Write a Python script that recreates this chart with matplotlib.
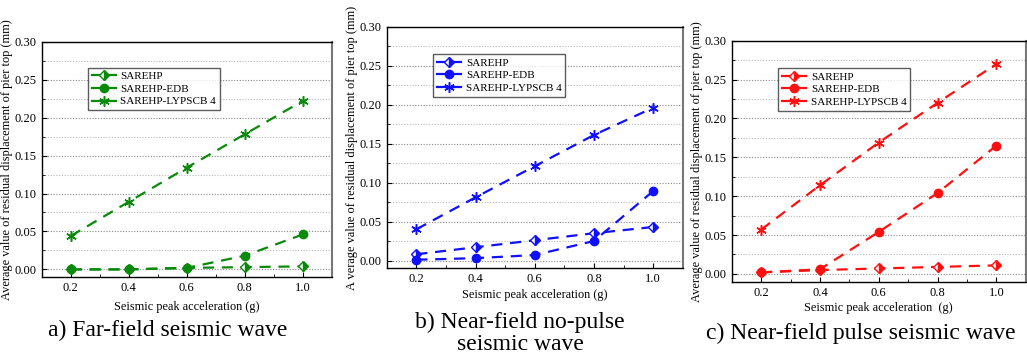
import matplotlib
matplotlib.use("Agg")
import matplotlib.pyplot as plt
from matplotlib.ticker import MultipleLocator

plt.rcParams['font.family'] = ['Liberation Serif', 'DejaVu Serif']

pga = [0.2, 0.4, 0.6, 0.8, 1.0]
series_names = ["SAREHP", "SAREHP-EDB", "SAREHP-LYPSCB 4"]

far_sarehp = [0.000, 0.000, 0.002, 0.003, 0.004]
far_edb = [0.000, 0.000, 0.002, 0.018, 0.046]
far_lyp = [0.044, 0.089, 0.134, 0.178, 0.222]

nop_sarehp = [0.008, 0.017, 0.026, 0.035, 0.043]
nop_edb = [0.001, 0.003, 0.007, 0.025, 0.089]
nop_lyp = [0.040, 0.081, 0.121, 0.161, 0.196]

pul_sarehp = [0.002, 0.005, 0.007, 0.009, 0.011]
pul_edb = [0.002, 0.006, 0.054, 0.104, 0.165]
pul_lyp = [0.057, 0.114, 0.169, 0.220, 0.270]

yticks = [0.00, 0.05, 0.10, 0.15, 0.20, 0.25, 0.30]
xticks = [0.2, 0.4, 0.6, 0.8, 1.0]

W, H = 1027, 358
fig = plt.figure(figsize=(W / 100, H / 100), dpi=100)

panels = [
    dict(box=(41.7, 41.7, 331.7, 277.0), ylim=(-0.01, 0.30), color="#0a8a0a",
         data=(far_sarehp, far_edb, far_lyp),
         ylabel="Average value of residual displacement of pier top (mm)",
         xlabel="Seismic peak acceleration (g)", xlab_y=307,
         legbox=(87.7, 67.7), caption=["a) Far-field seismic wave"], cap_x=168, cap_y=[330]),
    dict(box=(386.7, 26.7, 682.7, 268.3), ylim=(-0.01, 0.30), color="#1010ff",
         data=(nop_sarehp, nop_edb, nop_lyp),
         ylabel="A verage value of residual displacement of pier top (mm)",
         xlabel="Seismic peak acceleration (g)", xlab_y=295,
         legbox=(433, 54), caption=["b) Near-field no-pulse", "seismic wave"], cap_x=520, cap_y=[322, 345]),
    dict(box=(731.7, 40.7, 1025.7, 281.7), ylim=(-0.01, 0.30), color="#ff1010",
         data=(pul_sarehp, pul_edb, pul_lyp),
         ylabel="Average value of residual displacement of pier top (mm)",
         xlabel="Seismic peak acceleration  (g)", xlab_y=308,
         legbox=(778, 68), caption=["c) Near-field pulse seismic wave"], cap_x=861, cap_y=[333]),
]

for p in panels:
    x0, y0, x1, y1 = p["box"]
    ax = fig.add_axes([x0 / W, 1 - y1 / H, (x1 - x0) / W, (y1 - y0) / H])
    c = p["color"]
    s1, s2, s3 = p["data"]
    ax.plot(pga, s1, linestyle=(0, (5, 3.5)), color=c, lw=1.6, marker='D', ms=5.5,
            fillstyle='right', markerfacecoloralt='white', markeredgecolor=c, markerfacecolor=c,
            label=series_names[0])
    ax.plot(pga, s2, linestyle=(0, (5, 3.5)), color=c, lw=1.6, marker='o', ms=6,
            markerfacecolor=c, markeredgecolor=c, label=series_names[1])
    ax.plot(pga, s3, linestyle=(0, (5, 3.5)), color=c, lw=1.6, marker=(6, 2, 0), ms=7.5,
            markeredgewidth=1.1, label=series_names[2])
    ax.set_xlim(0.1, 1.1)
    ax.set_ylim(*p["ylim"])
    ax.set_xticks(xticks)
    ax.set_yticks(yticks)
    ax.set_xticklabels([f"{v:.1f}" for v in xticks])
    ax.set_yticklabels([f"{v:.2f}" for v in yticks])
    ax.xaxis.set_minor_locator(MultipleLocator(0.1))
    ax.yaxis.set_minor_locator(MultipleLocator(0.025))
    ax.tick_params(which='both', direction='in', labelsize=9, top=False, right=False)
    ax.tick_params(which='major', length=3.5)
    ax.tick_params(which='minor', length=2)
    ax.grid(axis='y', which='major', linestyle=(0, (1, 1.5)), color='#888888', lw=0.8)
    ax.grid(axis='y', which='minor', linestyle=(0, (1, 1.5)), color='#bbbbbb', lw=0.8)
    ax.set_axisbelow(True)
    for sp in ax.spines.values():
        sp.set_linewidth(1.0)
    ax.spines['right'].set_color('#777777')
    ax.spines['right'].set_linewidth(1.5)
    ax.set_ylabel(p["ylabel"], fontsize=8.9, labelpad=1.5)
    fig.text((x0 + x1) / 2 / W, 1 - p["xlab_y"] / H, p["xlabel"], fontsize=8.8,
             ha='center', va='center')
    lx, ly = p["legbox"]
    leg = ax.legend(loc='upper left',
                    bbox_to_anchor=((lx - x0) / (x1 - x0), 1 - (ly - y0) / (y1 - y0)),
                    fontsize=8, frameon=True, fancybox=False, borderpad=0.35,
                    labelspacing=0.25, handlelength=2.2, handletextpad=0.4,
                    borderaxespad=0)
    leg.get_frame().set_edgecolor('#333333')
    leg.get_frame().set_linewidth(1.0)
    for line in leg.get_lines():
        line.set_linestyle('-')
    for txt, cy in zip(p["caption"], p["cap_y"]):
        fig.text(p["cap_x"] / W, 1 - cy / H, txt, fontsize=17, ha='center', va='center')

fig.savefig("out.png", dpi=100)
